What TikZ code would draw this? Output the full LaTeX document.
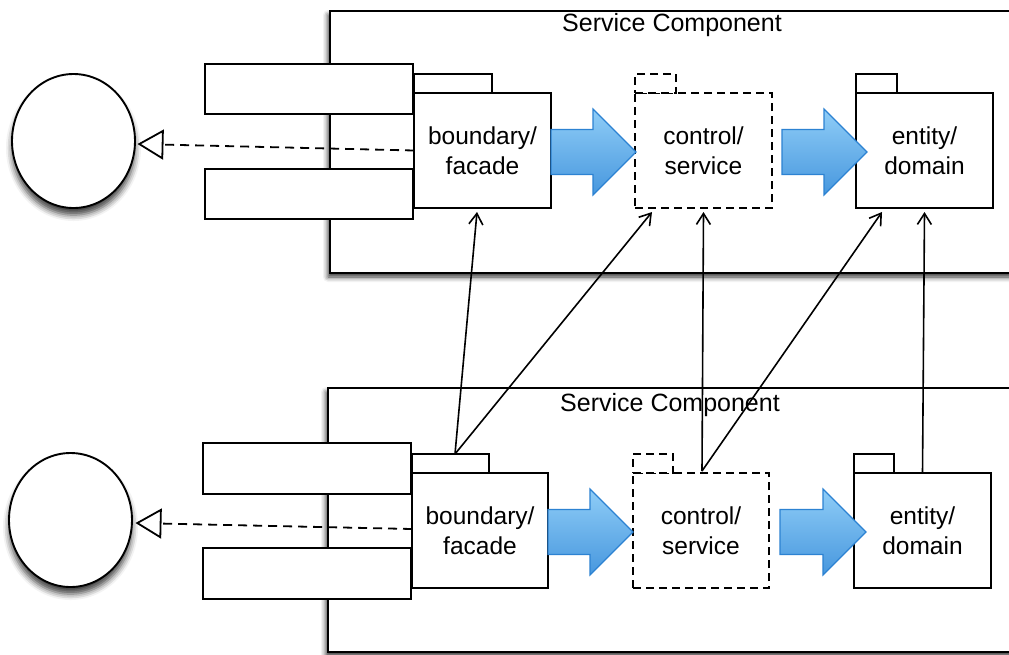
\documentclass[tikz,border=0pt]{standalone}
\usepackage{fontspec}
\setmainfont{Liberation Sans}
\usetikzlibrary{arrows.meta,shapes.geometric,calc,shadows.blur}

\definecolor{flowtop}{HTML}{8FCDF7}
\definecolor{flowbot}{HTML}{4797DE}
\definecolor{flowline}{HTML}{2C82D2}

\tikzset{
  frame/.style={draw, line width=2pt, fill=white, inner sep=0, outer sep=0,
    blur shadow={shadow xshift=-2pt, shadow yshift=-4pt, shadow blur radius=5pt, shadow opacity=80}},
  actor/.style={ellipse, draw, line width=1.9pt, fill=white, inner sep=0, outer sep=0,
    minimum width=123pt, minimum height=134pt,
    blur shadow={shadow xshift=0pt, shadow yshift=-7pt, shadow blur radius=6pt, shadow opacity=75}},
  port/.style={draw, line width=1.8pt, fill=white, inner sep=0, outer sep=0,
    minimum width=208pt, minimum height=50pt},
  pkg/.style={draw, line width=1.8pt, fill=white, inner sep=0, outer sep=0,
    minimum width=137pt, minimum height=115pt, align=center,
    font=\fontsize{24.5}{30}\selectfont},
  pkgtab/.style={draw, line width=1.8pt, fill=white, inner sep=0, outer sep=0,
    minimum height=19pt, anchor=south west},
  virtual/.style={dash pattern=on 8pt off 5pt},
  title/.style={font=\fontsize{25}{30}\selectfont, inner sep=0},
  realize/.style={dash pattern=on 9pt off 6pt, line width=1.8pt,
    -{Triangle[open, length=26pt, width=30pt, line width=1.8pt]}},
  dep/.style={line width=1.6pt, -{Straight Barb[length=11pt, width=14pt, line width=1.6pt]}},
  flow/.style={draw=flowline, line width=1.2pt, top color=flowtop, bottom color=flowbot},
}

% thick block arrow from a start point to a tip point (tip sets the axis)
\newcommand\flowarrow[2]{%
  \path[flow] let \p1=(#1), \p2=(#2) in
    (\x1,\y2+22.5pt) -- (\x2-43pt,\y2+22.5pt) -- (\x2-43pt,\y2+43pt) --
    (\x2,\y2) -- (\x2-43pt,\y2-43pt) -- (\x2-43pt,\y2-22.5pt) --
    (\x1,\y2-22.5pt) -- cycle;}

\begin{document}
\begin{tikzpicture}[x=1pt, y=-1pt]
\useasboundingbox (0,0) rectangle (1009,654);
\clip (0,0) rectangle (1009,654);

% component frames
\node[frame, minimum width=700pt, minimum height=262pt] (fr1) at (680,142) {};
\node[title] (t1) at (672,25) {Service Component};
\node[frame, minimum width=692pt, minimum height=264pt] (fr2) at (674,520) {};
\node[title] (t2) at (670,405) {Service Component};

% ---------- upper component ----------
\node[actor] (c1) at (73.5,141) {};
\node[port] (p1a) at (309,89) {};
\node[port] (p1b) at (309,194) {};

\node[pkg] (bf1) at (482.5,150.5) {boundary/\\facade};
\node[pkgtab, minimum width=78pt] (bf1t) at (bf1.north west) {};
\node[pkg, virtual] (cs1) at (703.5,150.5) {control/\\service};
\node[pkgtab, virtual, minimum width=41pt] (cs1t) at (cs1.north west) {};
\node[pkg] (ed1) at (924.5,150.5) {entity/\\domain};
\node[pkgtab, minimum width=41pt] (ed1t) at (ed1.north west) {};

\draw[realize] (bf1.west) -- ($(c1.east)+(2.5,3)$);
\flowarrow{bf1.east}{$(cs1.west)+(1,1.5)$}
\flowarrow{$(cs1.east)+(10,0)$}{$(ed1.west)+(11,1.5)$}

% ---------- lower component ----------
\node[actor] (c2) at (70.5,520) {};
\node[port, minimum height=51pt] (p2a) at (307,468.5) {};
\node[port, minimum height=51pt] (p2b) at (307,573.5) {};

\node[pkg, minimum width=136pt] (bf2) at (480,530.5) {boundary/\\facade};
\node[pkgtab, minimum width=77pt] (bf2t) at (bf2.north west) {};
\node[pkg, virtual, minimum width=136pt] (cs2) at (701,530.5) {control/\\service};
\node[pkgtab, virtual, minimum width=40pt] (cs2t) at (cs2.north west) {};
\node[pkg] (ed2) at (922.5,530.5) {entity/\\domain};
\node[pkgtab, minimum width=40pt] (ed2t) at (ed2.north west) {};

\draw[realize] ($(bf2.west)+(0,-1.5)$) -- ($(c2.east)+(3.5,3)$);
\flowarrow{bf2.east}{$(cs2.west)+(0,1.5)$}
\flowarrow{$(cs2.east)+(11,0)$}{$(ed2.west)+(12,1.5)$}

% ---------- dependencies between the components ----------
\draw[dep] ($(bf2t.north west)+(43,0)$) -- ($(bf1.south)+(-5.5,4)$);
\draw[dep] ($(bf2t.north west)+(43,0)$) -- ($(cs1.south west)+(17,4)$);
\draw[dep] ($(cs2.north)+(1,-2)$) -- ($(cs1.south)+(0,4)$);
\draw[dep] ($(cs2.north)+(1,-2)$) -- ($(ed1.south west)+(26,4)$);
\draw[dep] (ed2.north) -- ($(ed1.south)+(0,4)$);
\end{tikzpicture}
\end{document}
